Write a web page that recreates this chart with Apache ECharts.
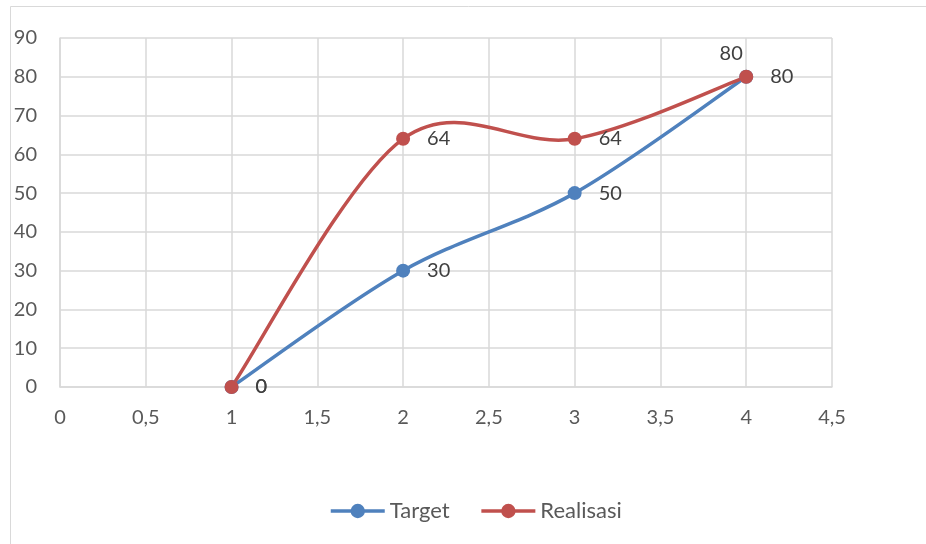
<!DOCTYPE html>
<html>
<head>
<meta charset="utf-8">
<style>
  html, body { margin: 0; padding: 0; background: #fff; }
  #chart { width: 926px; height: 544px; }
</style>
<script src="https://cdn.jsdelivr.net/npm/echarts@6/dist/echarts.min.js"></script>
</head>
<body>
<div id="chart"></div>
<script>
// data
var xValues = [1, 2, 3, 4];
var target = [0, 30, 50, 80];
var realisasi = [0, 64, 64, 80];
var seriesNames = ["Target", "Realisasi"];
var colors = ["#4F81BD", "#C0504D"];

function pairs(ys) {
  return xValues.map(function (x, i) { return [x, ys[i]]; });
}

var font = "Lato, 'Open Sans', sans-serif";

// smoothed curve like the spreadsheet one (catmull-rom, 1/6 tangents)
function curveSeries(ys, color) {
  return {
    type: "custom",
    name: "curve",
    z: 1,
    silent: true,
    data: pairs(ys).slice(0, ys.length - 1),
    renderItem: function (params, api) {
      var i = params.dataIndex;
      var n = ys.length;
      function pt(j) {
        j = Math.max(0, Math.min(n - 1, j));
        return api.coord([xValues[j], ys[j]]);
      }
      var p0 = pt(i - 1), p1 = pt(i), p2 = pt(i + 1), p3 = pt(i + 2);
      return {
        type: "bezierCurve",
        shape: {
          x1: p1[0], y1: p1[1],
          cpx1: p1[0] + (p2[0] - p0[0]) / 6,
          cpy1: p1[1] + (p2[1] - p0[1]) / 6,
          cpx2: p2[0] - (p3[0] - p1[0]) / 6,
          cpy2: p2[1] - (p3[1] - p1[1]) / 6,
          x2: p2[0], y2: p2[1]
        },
        style: { stroke: color, lineWidth: 3.5, fill: null, lineCap: "round" }
      };
    }
  };
}

var labelBase = {
  show: true,
  position: "right",
  distance: 17,
  fontFamily: font,
  fontSize: 20,
  color: "#404040",
  formatter: function (p) { return p.value[1]; }
};

var realisasiData = pairs(realisasi);
realisasiData[3] = {
  value: realisasiData[3],
  label: { position: "top", distance: 6, offset: [-15, 0] }
};

var myChart = echarts.init(document.getElementById('chart'));
var option = {
  animation: false,
  color: colors,
  graphic: [
    {
      type: "rect",
      shape: { x: 10.5, y: 6.5, width: 1000, height: 1000 },
      style: { fill: "none", stroke: "#D9D9D9", lineWidth: 1 },
      silent: true
    }
  ],
  grid: {
    left: 60,
    right: 94,
    top: 38,
    bottom: 157
  },
  legend: {
    left: 329,
    top: 500,
    padding: 0,
    itemWidth: 54,
    itemHeight: 18,
    itemGap: 30,
    lineStyle: { opacity: 1, width: 3.5 },
    textStyle: { fontFamily: font, fontSize: 22, color: "#595959" },
    data: seriesNames
  },
  xAxis: {
    type: "value",
    min: 0,
    max: 4.5,
    interval: 0.5,
    axisLine: { show: true, lineStyle: { color: "#D9D9D9", width: 1.5 } },
    axisTick: { show: false },
    splitLine: { show: true, lineStyle: { color: "#D9D9D9", width: 1.5 } },
    axisLabel: {
      margin: 21,
      fontFamily: font,
      fontSize: 20,
      color: "#595959",
      formatter: function (v) { return String(v).replace(".", ","); }
    }
  },
  yAxis: {
    type: "value",
    min: 0,
    max: 90,
    interval: 10,
    axisLine: { show: true, lineStyle: { color: "#D9D9D9", width: 1.5 } },
    axisTick: { show: false },
    splitLine: { show: true, lineStyle: { color: "#D9D9D9", width: 1.5 } },
    axisLabel: { margin: 23, fontFamily: font, fontSize: 20, color: "#595959" }
  },
  series: [
    curveSeries(target, colors[0]),
    curveSeries(realisasi, colors[1]),
    {
      name: seriesNames[0],
      type: "line",
      z: 3,
      symbol: "circle",
      symbolSize: 14,
      itemStyle: { color: colors[0] },
      lineStyle: { width: 3.5, opacity: 0 },
      label: labelBase,
      data: pairs(target)
    },
    {
      name: seriesNames[1],
      type: "line",
      z: 3,
      symbol: "circle",
      symbolSize: 14,
      itemStyle: { color: colors[1] },
      lineStyle: { width: 3.5, opacity: 0 },
      label: labelBase,
      data: realisasiData
    }
  ]
};

myChart.setOption(option);
</script>
</body>
</html>
